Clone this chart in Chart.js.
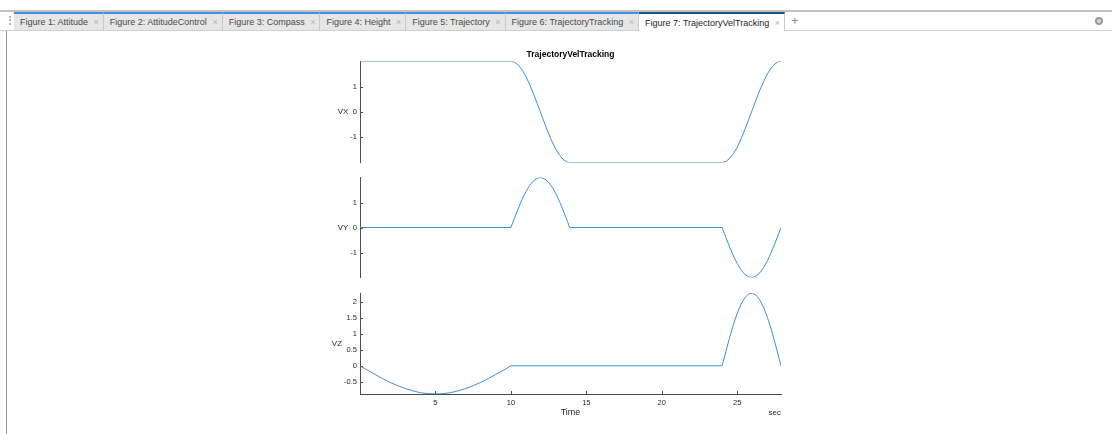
<!DOCTYPE html>
<html>
<head>
<meta charset="utf-8">
<title>TrajectoryVelTracking</title>
<script src="https://cdn.jsdelivr.net/npm/chart.js@4.4.1/dist/chart.umd.min.js"></script>
<style>
  html, body { margin: 0; padding: 0; background: #fff; }
  body { width: 1112px; height: 434px; position: relative; overflow: hidden; font-family: "Liberation Sans", Arial, sans-serif; }
  #tabbar { position: absolute; left: 0; top: 10px; width: 1112px; height: 18px; border-top: 2px solid #c2c2c2; border-bottom: 1px solid #d0d0d0; }
  #grip { position: absolute; left: 9px; top: 4px; width: 2px; height: 9px; border-left: 2px dotted #b8b8b8; }
  #tabs { position: absolute; left: 14px; top: 0; height: 18px; display: flex; }
  .tab { box-sizing: border-box; height: 18px; padding: 0 4px 0 6px; display: flex; align-items: center; font-size: 9px; color: #4a4a4a;
         background: #e6e6e6; border-top: 2px solid #3f90dc; border-right: 1px solid #c9c9c9; white-space: nowrap; }
  .tab .close { margin-left: 5.5px; color: #b4b4b4; font-size: 9px; }
  .tab.active { background: #fff; color: #1e1e1e; border-top: 2px solid #17508a; height: 19px; }
  #plus { position: absolute; left: 791px; top: 1px; font-size: 13px; line-height: 16px; color: #8a8a8a; }
  #menu { position: absolute; left: 1095px; top: 5px; width: 4px; height: 4px; border: 2px solid #9c9c9c; border-radius: 50%; background: #d6d6d6; }
  #edge { position: absolute; left: 6px; top: 31px; width: 1px; height: 403px; background: #9a9a9a; }
  canvas { position: absolute; left: 300px; }
  #chartVX { top: 36px; }
  #chartVY { top: 170px; }
  #chartVZ { top: 285px; }
</style>
</head>
<body>
<div id="tabbar">
  <div id="grip"></div>
  <div id="tabs"></div>
  <div id="plus">+</div>
  <div id="menu"></div>
</div>
<div id="edge"></div>
<canvas id="chartVX" width="500" height="134"></canvas>
<canvas id="chartVY" width="500" height="115"></canvas>
<canvas id="chartVZ" width="500" height="149"></canvas>
<script>
// ── figure tabs ──
const tabTitles = ['Figure 1: Attitude', 'Figure 2: AttitudeControl', 'Figure 3: Compass', 'Figure 4: Height',
  'Figure 5: Trajectory', 'Figure 6: TrajectoryTracking', 'Figure 7: TrajectoryVelTracking'];
const activeTab = 6;

// ── velocity samples (s, m/s) ──
const timeVX = [0, 10, 10.25, 10.5, 10.75, 11, 11.25, 11.5, 11.75, 12, 12.25, 12.5, 12.75, 13, 13.25, 13.5, 13.75, 13.9,
  24, 24.25, 24.5, 24.75, 25, 25.25, 25.5, 25.75, 26, 26.25, 26.5, 26.75, 27, 27.25, 27.5, 27.75, 27.9];
const valuesVX = [2, 2, 1.96, 1.84, 1.65, 1.39, 1.07, 0.71, 0.32, -0.08, -0.48, -0.86, -1.20, -1.50, -1.73, -1.90, -1.99, -2,
  -2, -1.96, -1.84, -1.65, -1.39, -1.07, -0.71, -0.32, 0.08, 0.48, 0.86, 1.20, 1.50, 1.73, 1.90, 1.99, 2];

const timeVY = [0, 10, 10.25, 10.5, 10.75, 11, 11.25, 11.5, 11.75, 12, 12.25, 12.5, 12.75, 13, 13.25, 13.5, 13.75, 13.9,
  24, 24.25, 24.5, 24.75, 25, 25.25, 25.5, 25.75, 26, 26.25, 26.5, 26.75, 27, 27.25, 27.5, 27.75, 27.9];
const valuesVY = [0, 0, 0.40, 0.78, 1.14, 1.44, 1.69, 1.87, 1.97, 2.0, 1.94, 1.81, 1.60, 1.33, 1.0, 0.63, 0.24, 0,
  0, -0.40, -0.78, -1.14, -1.44, -1.69, -1.87, -1.97, -2.0, -1.94, -1.81, -1.60, -1.33, -1.0, -0.63, -0.24, 0];

const timeVZ = [0, 0.5, 1, 1.5, 2, 2.5, 3, 3.5, 4, 4.5, 5, 5.5, 6, 6.5, 7, 7.5, 8, 8.5, 9, 9.5, 10,
  24, 24.25, 24.5, 24.75, 25, 25.25, 25.5, 25.75, 26, 26.25, 26.5, 26.75, 27, 27.25, 27.5, 27.75, 27.9];
const valuesVZ = [0, -0.14, -0.27, -0.40, -0.52, -0.62, -0.71, -0.78, -0.84, -0.87, -0.88, -0.87, -0.84, -0.78, -0.71, -0.62, -0.52, -0.40, -0.27, -0.14, 0,
  0, 0.45, 0.89, 1.29, 1.64, 1.92, 2.12, 2.24, 2.27, 2.20, 2.05, 1.82, 1.51, 1.14, 0.72, 0.27, 0];

// axis limits and tick labels
const timeRange = [0, 27.9];
const rangeVX = [-2, 2];
const rangeVY = [-2, 2];
const rangeVZ = [-0.88, 2.27];
const ticksVX = [-1, 0, 1];
const ticksVY = [-1, 0, 1];
const ticksVZ = [-0.5, 0, 0.5, 1, 1.5, 2];
const ticksTime = [5, 10, 15, 20, 25];

const tabsEl = document.getElementById('tabs');
tabTitles.forEach((t, i) => {
  const d = document.createElement('div');
  d.className = 'tab' + (i === activeTab ? ' active' : '');
  d.innerHTML = '<span>' + t + '</span><span class="close">×</span>';
  tabsEl.appendChild(d);
});

const FONT = '"Liberation Sans", Arial, sans-serif';
const INK = '#262626';
const AXIS = '#4d4d4d';
const LINE = '#3e8fd4';
Chart.defaults.font.family = FONT;
Chart.defaults.color = INK;

// Inward tick marks, horizontal y label and the unit under the time axis
const axisDecor = {
  id: 'axisDecor',
  afterDraw(chart, args, opts) {
    const { ctx, chartArea: a, scales } = chart;
    ctx.save();
    ctx.strokeStyle = AXIS;
    ctx.lineWidth = 1;
    scales.y.ticks.forEach(t => {
      const py = Math.round(scales.y.getPixelForValue(t.value)) + 0.5;
      ctx.beginPath(); ctx.moveTo(a.left, py); ctx.lineTo(a.left + 3, py); ctx.stroke();
    });
    if (scales.x.options.display) {
      scales.x.ticks.forEach(t => {
        const px = Math.round(scales.x.getPixelForValue(t.value)) + 0.5;
        ctx.beginPath(); ctx.moveTo(px, a.bottom); ctx.lineTo(px, a.bottom - 3); ctx.stroke();
      });
    }
    ctx.fillStyle = INK;
    ctx.font = '7.5px ' + FONT;
    const maxW = Math.max(...scales.y.ticks.map(t => ctx.measureText(t.label).width));
    ctx.font = '8px ' + FONT;
    ctx.textAlign = 'right';
    ctx.textBaseline = 'middle';
    ctx.fillText(opts.label, a.left - 3 - maxW - 2, (a.top + a.bottom) / 2);
    if (opts.unit) {
      ctx.fillText(opts.unit, a.right, a.bottom + 19);
    }
    ctx.restore();
  }
};

function toPoints(xs, ys) {
  return xs.map((x, i) => ({ x, y: ys[i] }));
}

function yAxis(range, tickValues) {
  return {
    min: range[0], max: range[1],
    grid: { display: false, drawTicks: false },
    border: { display: true, color: AXIS, width: 1 },
    afterBuildTicks: s => { s.ticks = tickValues.map(v => ({ value: v })); },
    afterFit: s => { s.width = 60; },
    ticks: { color: INK, font: { size: 7.5 }, padding: 3, callback: v => String(v) }
  };
}

function lineSet(xs, ys) {
  return { data: toPoints(xs, ys), borderColor: LINE, borderWidth: 1, pointRadius: 0, tension: 0, fill: false };
}

const base = { responsive: false, animation: false, events: [] };

// VX
new Chart(document.getElementById('chartVX'), {
  type: 'line',
  data: { datasets: [lineSet(timeVX, valuesVX)] },
  plugins: [axisDecor],
  options: {
    ...base,
    layout: { padding: { left: 0, right: 19, top: 0, bottom: 5 } },
    plugins: {
      legend: { display: false }, tooltip: { enabled: false },
      // fullSize off so the title is centred over the plot, not the canvas
      title: { display: true, fullSize: false, text: 'TrajectoryVelTracking', color: '#000', font: { size: 8.5, weight: 'bold' }, padding: { top: 14, bottom: 1 } },
      axisDecor: { label: 'VX' }
    },
    scales: {
      x: { type: 'linear', min: timeRange[0], max: timeRange[1], display: false },
      y: yAxis(rangeVX, ticksVX)
    }
  }
});

// VY
new Chart(document.getElementById('chartVY'), {
  type: 'line',
  data: { datasets: [lineSet(timeVY, valuesVY)] },
  plugins: [axisDecor],
  options: {
    ...base,
    layout: { padding: { left: 0, right: 19, top: 7, bottom: 6 } },
    plugins: { legend: { display: false }, tooltip: { enabled: false }, axisDecor: { label: 'VY' } },
    scales: {
      x: { type: 'linear', min: timeRange[0], max: timeRange[1], display: false },
      y: yAxis(rangeVY, ticksVY)
    }
  }
});

// VZ, with the shared time axis
new Chart(document.getElementById('chartVZ'), {
  type: 'line',
  data: { datasets: [lineSet(timeVZ, valuesVZ)] },
  plugins: [axisDecor],
  options: {
    ...base,
    layout: { padding: { left: 0, right: 19, top: 8, bottom: 0 } },
    plugins: { legend: { display: false }, tooltip: { enabled: false }, axisDecor: { label: 'VZ', unit: 'sec' } },
    scales: {
      x: {
        type: 'linear', min: timeRange[0], max: timeRange[1],
        grid: { display: false, drawTicks: false },
        border: { display: true, color: AXIS, width: 1 },
        afterBuildTicks: s => { s.ticks = ticksTime.map(v => ({ value: v })); },
        afterFit: s => { s.height = 40; },
        ticks: { color: INK, font: { size: 7.5 }, padding: 4, maxRotation: 0, callback: v => String(v) },
        title: { display: true, text: 'Time', color: INK, font: { size: 9 }, padding: { top: 0, bottom: 15.6 } }
      },
      y: yAxis(rangeVZ, ticksVZ)
    }
  }
});
</script>
</body>
</html>
